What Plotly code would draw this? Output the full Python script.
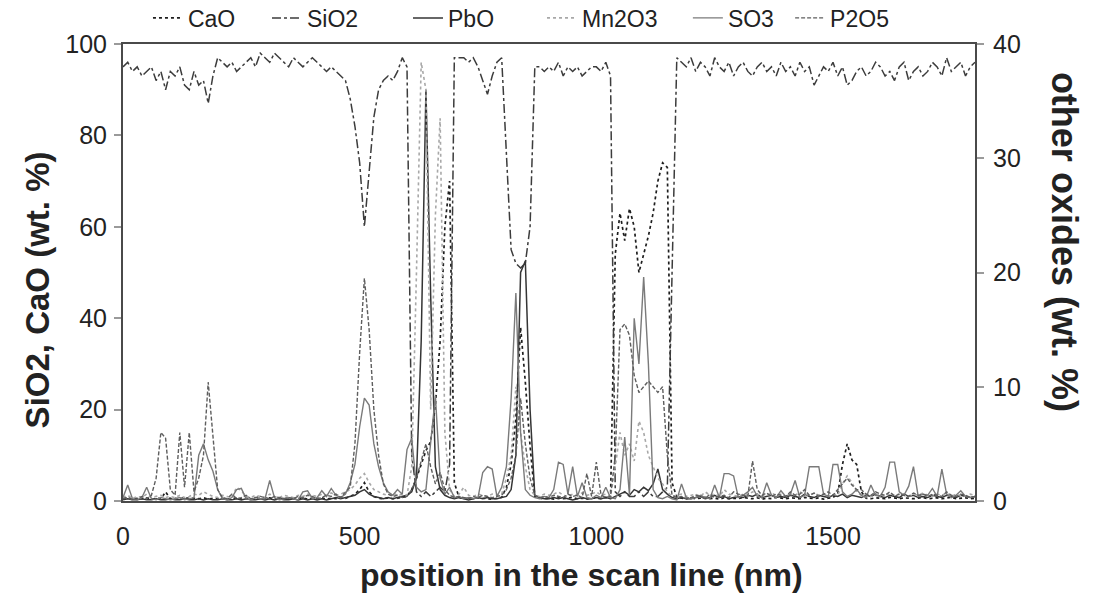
import plotly.graph_objects as go

# positions along the scan line (nm)
position_nm = list(range(0, 1801, 10))

# ---- left axis (wt. %) ----
sio2 = [
    95, 96, 94, 95, 93, 94, 95, 92, 94, 90,
    94, 93, 95, 91, 90, 94, 91, 92, 87, 93,
    97, 96, 95, 96, 94, 95, 96, 97, 95, 98,
    97, 96, 98, 97, 96, 95, 97, 96, 95, 96,
    97, 96, 95, 94, 95, 94, 93, 92, 88, 82,
    74, 60, 72, 84, 90, 92, 93, 92, 94, 97,
    95, 10, 2, 1, 2, 1, 2, 3, 2, 8,
    97, 97, 97, 96, 97, 95, 92, 89, 93, 96,
    97, 75, 55, 52, 51, 52, 60, 95, 95, 94,
    95, 94, 96, 93, 95, 94, 95, 93, 94, 95,
    95, 94, 96, 93, 2, 1, 2, 1, 1, 2,
    1, 2, 1, 1, 2, 3, 50, 97, 96, 95,
    97, 94, 96, 95, 93, 97, 95, 94, 96, 93,
    95, 96, 94, 93, 95, 96, 94, 95, 93, 96,
    94, 95, 93, 96, 94, 95, 91, 93, 95, 94,
    96, 93, 95, 91, 92, 94, 95, 93, 94, 96,
    95, 93, 94, 92, 95, 96, 92, 94, 95, 93,
    94, 96, 95, 93, 97, 94, 95, 96, 93, 95,
    96,
]

cao = [
    0.5, 0.8, 0.4, 0.6, 0.5, 0.7, 0.4, 0.6, 0.5, 2.0,
    0.5, 0.6, 0.4, 0.8, 0.5, 0.6, 0.5, 0.7, 0.4, 0.6,
    0.5, 0.6, 0.4, 0.5, 0.7, 0.4, 0.6, 0.5, 0.4, 0.6,
    0.5, 0.7, 0.4, 0.6, 0.5, 0.4, 0.6, 0.5, 0.7, 0.4,
    0.6, 0.5, 0.7, 0.4, 0.6, 0.5, 0.8, 0.6, 1.0, 1.5,
    2.5, 4.0, 2.0, 1.0, 0.6, 0.5, 0.7, 0.5, 0.6, 0.8,
    1.0, 2.5, 5.0, 8.0, 11.0, 13.0, 21.0, 35.0, 60.0, 70.0,
    4.0, 0.8, 0.5, 0.6, 0.5, 0.7, 0.6, 0.5, 0.4, 0.6,
    0.8, 3.0, 8.0, 18.0, 38.0, 26.0, 12.0, 1.0, 0.6, 0.5,
    0.6, 0.4, 0.7, 0.5, 0.6, 0.8, 0.5, 0.6, 0.4, 0.7,
    0.6, 0.5, 0.8, 0.6, 54.0, 63.0, 57.0, 64.0, 60.0, 50.0,
    54.0, 58.0, 63.0, 70.0, 74.0, 73.0, 4.0, 0.8, 0.6, 0.5,
    0.7, 0.5, 0.6, 0.8, 0.5, 0.6, 0.4, 0.7, 0.5, 0.6,
    0.5, 0.8, 0.6, 0.5, 0.7, 0.4, 0.6, 0.5, 0.8, 0.6,
    0.5, 0.7, 0.6, 0.5, 0.8, 0.6, 0.5, 0.7, 0.4, 0.6,
    0.8, 1.5, 8.0, 12.5, 9.0, 8.0, 2.0, 0.6, 0.5, 0.7,
    0.6, 0.5, 0.8, 0.6, 0.5, 0.7, 0.6, 0.5, 0.6, 0.8,
    0.5, 0.6, 0.7, 0.5, 0.6, 0.8, 0.5, 0.6, 0.7, 0.5,
    0.6,
]

# ---- right axis (wt. %) ----
pbo = [
    0.1, 0.2, 0.1, 0.1, 0.2, 0.1, 0.1, 0.2, 0.1, 0.1,
    0.2, 0.1, 0.1, 0.2, 0.1, 0.1, 0.2, 0.1, 0.2, 0.1,
    0.1, 0.2, 0.1, 0.1, 0.2, 0.1, 0.2, 0.1, 0.1, 0.2,
    0.1, 0.2, 0.1, 0.2, 0.1, 0.1, 0.2, 0.1, 0.2, 0.1,
    0.2, 0.1, 0.2, 0.1, 0.2, 0.3, 0.2, 0.3, 0.4, 0.5,
    0.8, 1.0, 0.6, 0.4, 0.3, 0.2, 0.3, 0.2, 0.3, 0.4,
    0.5, 0.8, 2.0, 14.0, 36.0, 18.0, 3.0, 1.0, 0.5, 0.3,
    0.2, 0.3, 0.2, 0.1, 0.2, 0.3, 0.2, 0.3, 0.2, 0.2,
    0.3, 0.4, 1.0, 4.0, 20.0, 21.0, 8.0, 0.5, 0.3, 0.2,
    0.2, 0.3, 0.2, 0.3, 0.2, 0.1, 0.2, 0.3, 0.2, 0.2,
    0.3, 0.2, 0.3, 0.2, 0.4, 0.6, 0.8, 0.5, 1.0, 0.8,
    1.2, 0.9, 1.5, 2.8, 1.0, 0.6, 0.3, 0.2, 0.3, 0.2,
    0.2, 0.3, 0.4, 0.2, 0.3, 0.5, 0.3, 0.4, 0.2, 0.3,
    0.4, 0.3, 0.5, 0.4, 0.6, 0.3, 0.4, 0.5, 0.3, 0.4,
    0.3, 0.5, 0.4, 0.3, 0.6, 0.4, 0.3, 0.5, 0.4, 0.3,
    0.5, 0.4, 0.6, 0.3, 0.5, 0.4, 0.3, 0.5, 0.4, 0.6,
    0.4, 0.3, 0.5, 0.4, 0.3, 0.6, 0.4, 0.5, 0.3, 0.4,
    0.3, 0.5, 0.4, 0.3, 0.5, 0.4, 0.3, 0.5, 0.4, 0.3,
    0.4,
]

mn2o3 = [
    0.3, 0.5, 0.2, 0.4, 0.3, 0.6, 0.3, 0.4, 0.5, 0.3,
    0.4, 0.3, 0.5, 0.3, 0.4, 0.6, 0.5, 0.8, 0.6, 0.4,
    0.3, 0.5, 0.4, 0.3, 1.2, 0.9, 0.4, 0.3, 0.5, 0.4,
    0.3, 0.6, 0.4, 0.3, 0.5, 0.4, 0.3, 0.5, 0.4, 0.6,
    0.5, 0.4, 0.6, 0.5, 0.7, 0.5, 0.6, 0.8, 1.0, 1.4,
    2.0, 2.4, 1.6, 1.0, 0.8, 0.6, 0.5, 0.7, 0.5, 0.6,
    0.5, 3.0, 20.0, 38.4, 36.0, 8.0, 25.0, 33.5, 6.0, 1.0,
    0.4, 0.6, 1.2, 0.5, 0.4, 0.6, 0.5, 0.4, 0.6, 0.5,
    0.6, 2.0, 4.0, 10.0, 6.0, 3.0, 1.0, 0.5, 0.4, 0.6,
    0.5, 0.6, 0.8, 0.5, 0.4, 0.6, 0.5, 0.7, 0.5, 0.6,
    0.8, 0.5, 0.6, 0.4, 3.0, 6.0, 4.0, 5.0, 3.5, 7.0,
    6.0, 4.0, 3.0, 2.0, 1.5, 0.8, 0.4, 0.5, 0.6, 0.4,
    0.5, 0.6, 0.4, 0.8, 0.5, 0.6, 0.4, 1.0, 0.6, 0.5,
    0.4, 0.6, 0.5, 0.8, 0.6, 0.4, 0.5, 0.7, 0.5, 0.6,
    0.4, 0.6, 0.5, 0.8, 0.6, 0.5, 0.7, 0.5, 0.6, 0.4,
    0.6, 0.5, 1.5, 2.2, 1.6, 0.8, 0.5, 0.6, 0.4, 0.5,
    0.6, 0.4, 0.7, 0.5, 0.6, 0.5, 0.4, 0.6, 0.5, 0.7,
    0.5, 0.4, 0.6, 0.5, 0.7, 0.4, 0.6, 0.5, 0.4, 0.6,
    0.5,
]

so3 = [
    0.3, 1.4, 0.2, 0.1, 0.3, 1.2, 0.2, 0.1, 0.3, 0.2,
    0.1, 0.2, 0.3, 0.1, 0.2, 0.3, 4.0, 5.0, 3.6, 2.6,
    1.0, 0.2, 0.1, 0.3, 1.0, 1.1, 0.2, 0.1, 0.3, 0.2,
    0.2, 1.8, 0.3, 0.1, 0.2, 0.3, 0.2, 0.1, 0.8, 0.9,
    0.2, 0.3, 0.9, 0.4, 1.1, 0.5, 0.3, 0.6, 1.6, 3.2,
    6.5, 9.0, 8.4, 5.0, 3.0, 1.6, 0.8, 0.5, 1.0, 0.6,
    4.5, 5.5, 1.2, 0.8, 1.0, 5.0, 9.2, 2.0, 0.6, 1.2,
    0.3, 0.4, 0.2, 0.3, 0.2, 0.3, 2.5, 3.0, 2.8, 0.4,
    1.2, 3.0, 9.0, 18.2, 6.0, 1.0, 0.5, 0.3, 0.2, 0.4,
    0.3, 1.0, 3.4, 3.2, 0.6, 3.0, 0.4, 1.6, 0.3, 0.2,
    0.5, 0.3, 1.2, 0.3, 0.2, 1.0, 5.6, 0.5, 16.0, 12.0,
    19.6, 12.0, 1.0, 0.3, 0.2, 0.4, 0.2, 0.1, 1.5, 0.3,
    0.2, 0.3, 0.5, 0.3, 0.2, 1.4, 0.3, 2.4, 2.4, 2.2,
    0.3, 0.5, 0.8, 1.2, 0.4, 0.3, 1.6, 0.5, 0.3, 0.9,
    0.4, 0.6, 1.8, 0.3, 0.5, 3.0, 3.0, 3.0, 0.6, 0.4,
    3.2, 3.2, 0.8, 0.4, 0.6, 1.0, 0.5, 0.3, 1.4, 0.5,
    0.4, 1.2, 3.4, 3.4, 0.8, 0.5, 1.3, 3.0, 0.4, 0.6,
    0.5, 1.1, 0.4, 2.8, 0.6, 0.3, 0.5, 0.9, 0.4, 0.3,
    0.4,
]

p2o5 = [
    0.2, 0.3, 0.1, 0.2, 0.4, 0.2, 0.5, 2.0, 6.0, 5.5,
    1.0, 0.5, 6.0, 1.2, 6.0, 0.8, 2.0, 4.0, 10.4, 6.0,
    1.0, 0.3, 0.2, 0.6, 0.2, 0.3, 0.5, 0.2, 0.3, 0.4,
    0.3, 0.2, 0.4, 0.3, 0.2, 0.3, 0.2, 0.4, 0.3, 0.5,
    0.4, 0.2, 0.3, 0.5, 0.4, 0.6, 0.3, 0.8, 1.2, 5.0,
    13.0, 19.5, 15.0, 8.0, 4.0, 1.5, 0.6, 0.4, 0.5, 0.3,
    0.4, 1.0, 2.0, 3.5, 5.0, 3.0, 1.5, 2.5, 1.0, 0.5,
    0.3, 0.4, 0.3, 0.2, 0.4, 0.3, 0.5, 0.4, 0.3, 0.4,
    0.5, 1.0, 2.0, 4.0, 9.0, 5.0, 2.0, 0.5, 0.3, 0.4,
    0.3, 0.5, 0.4, 0.3, 0.6, 0.4, 0.5, 0.3, 2.4, 0.4,
    3.4, 0.5, 0.3, 0.4, 4.0, 15.0, 15.5, 14.5, 11.0, 9.5,
    10.0, 10.5, 10.0, 9.5, 10.0, 4.0, 0.5, 0.3, 0.4, 0.2,
    0.3, 0.5, 0.4, 0.2, 0.6, 0.3, 0.4, 0.5, 0.3, 0.8,
    0.6, 0.5, 0.4, 3.5, 1.0, 0.5, 0.7, 0.4, 0.6, 0.5,
    0.4, 0.8, 0.5, 0.6, 1.0, 0.5, 0.7, 0.4, 0.6, 0.8,
    0.5, 1.0, 1.5, 2.0, 1.4, 1.0, 1.0, 0.6, 0.5, 0.8,
    0.6, 0.5, 0.8, 0.4, 0.6, 0.5, 0.4, 0.7, 0.5, 0.6,
    0.4, 0.6, 0.5, 0.4, 0.8, 0.5, 0.4, 0.6, 0.5, 0.3,
    0.4,
]

x_ticks = [0, 500, 1000, 1500]

FONT = "Liberation Sans, Arial, Helvetica, sans-serif"

series = [
    ("CaO", cao, "y", dict(color="#1e1e1e", width=1.7, dash="dot"), "legend"),
    ("SiO2", sio2, "y", dict(color="#3c3c3c", width=1.5, dash="dashdot"), "legend2"),
    ("PbO", pbo, "y2", dict(color="#353535", width=1.5), "legend3"),
    ("Mn2O3", mn2o3, "y2", dict(color="#a8a8a8", width=1.6, dash="dot"), "legend4"),
    ("SO3", so3, "y2", dict(color="#7a7a7a", width=1.4), "legend5"),
    ("P2O5", p2o5, "y2", dict(color="#5e5e5e", width=1.4, dash="4px,2px"), "legend6"),
]

fig = go.Figure()
for name, vals, yax, line, leg in series:
    fig.add_trace(go.Scatter(
        x=position_nm, y=vals, name=name, mode="lines",
        yaxis=yax, line=line, legend=leg,
    ))

legend_x = [0.0293, 0.169, 0.3345, 0.4918, 0.663, 0.783]
legend_common = dict(
    orientation="h", yanchor="middle", y=1.057, xanchor="left",
    font=dict(family=FONT, size=23, color="#222"),
    bgcolor="rgba(0,0,0,0)", itemwidth=30,
)
leg_layout = {}
for i, lx in enumerate(legend_x):
    key = "legend" if i == 0 else f"legend{i + 1}"
    leg_layout[key] = dict(x=lx, **legend_common)

axis_line = dict(showline=True, linecolor="#4a4a4a", linewidth=2,
                 showgrid=False, zeroline=False)

title_font = dict(family=FONT, color="#222")

fig.update_layout(
    width=1099, height=593,
    margin=dict(l=123, r=124, t=44, b=92, autoexpand=False),
    paper_bgcolor="white", plot_bgcolor="white",
    font=dict(family=FONT, size=25, color="#222"),
    showlegend=True,
    xaxis=dict(
        range=[0, 1800], tickvals=x_ticks, ticks="", mirror=True,
        tickfont=dict(size=25), ticklabelstandoff=12,
        **axis_line,
    ),
    yaxis=dict(
        range=[0, 100], tickvals=[0, 20, 40, 60, 80, 100],
        ticks="outside", ticklen=7, tickcolor="#9a9a9a", tickwidth=1.5,
        tickfont=dict(size=25), ticklabelstandoff=2,
        **axis_line,
    ),
    yaxis2=dict(
        range=[0, 40], tickvals=[0, 10, 20, 30, 40], overlaying="y",
        side="right", ticks="outside", ticklen=7, tickcolor="#9a9a9a",
        tickwidth=1.5, tickfont=dict(size=25), ticklabelstandoff=4,
        **axis_line,
    ),
    annotations=[
        dict(text="<b>position in the scan line (nm)</b>",
             xref="paper", yref="paper", x=0.5376, y=-0.162,
             xanchor="center", yanchor="middle", showarrow=False,
             font=dict(size=32, **title_font)),
        dict(text="<b>SiO2, CaO (wt. %)</b>", textangle=-90,
             xref="paper", yref="paper", x=-0.1005, y=0.4617,
             xanchor="center", yanchor="middle", showarrow=False,
             font=dict(size=33, **title_font)),
        dict(text="<b>other oxides (wt. %)</b>", textangle=90,
             xref="paper", yref="paper", x=1.105, y=0.566,
             xanchor="center", yanchor="middle", showarrow=False,
             font=dict(size=36, **title_font)),
    ],
    **leg_layout,
)

fig.write_html("out.html")
